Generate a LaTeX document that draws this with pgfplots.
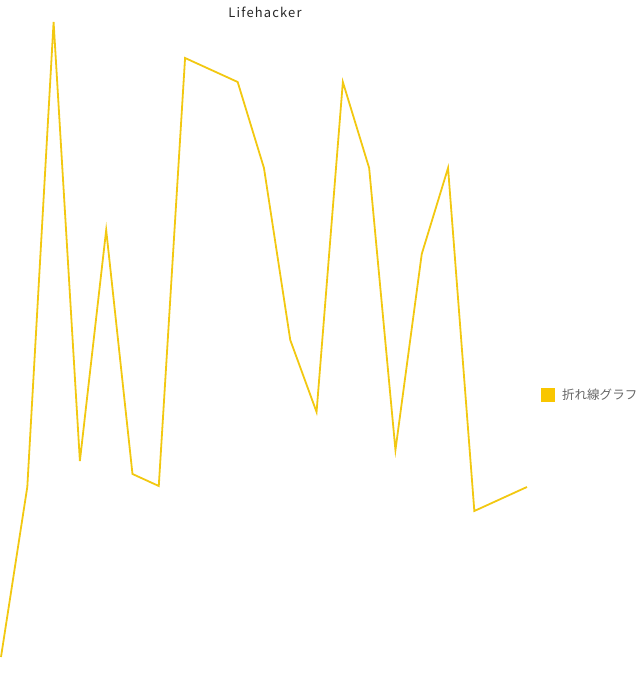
\documentclass[border=0pt]{standalone}
\usepackage{fontspec}
\setmainfont{Noto Sans CJK JP}
\usepackage{pgfplots}
\pgfplotsset{compat=1.18}
\definecolor{lineyellow}{HTML}{F2C811}
\definecolor{squareyellow}{HTML}{F9C600}
\definecolor{legendgray}{HTML}{666666}

\begin{document}
\begin{tikzpicture}[x=1bp,y=1bp]
\begin{axis}[
    at={(0,0)}, anchor=south west,
    scale only axis,
    width=640bp, height=689bp,
    xmin=-0.038, xmax=24.30,
    ymin=0, ymax=689,
    hide axis,
    clip=false,
    legend style={at={(axis cs:20.53,294)}, anchor=west, draw=none, fill=none,
        font=\fontsize{12.6}{14}\selectfont\color{legendgray},
        inner sep=0pt, column sep=0pt},
    legend image code/.code={
        \fill[squareyellow, draw=none] (0bp,-7bp) rectangle (14bp,7bp);
    },
    legend cell align=left,
]
\addplot[lineyellow, line width=1.8bp, mark=none, line join=miter] coordinates {
    (0,32) (1,202) (2,667) (3,228) (4,459) (5,215) (6,203) (7,631)
    (8,619) (9,607) (10,521) (11,349) (12,277) (13,607) (14,521)
    (15,239) (16,435) (17,521) (18,178) (19,190) (20,202)
};
\addlegendentry{\hspace{5bp}折れ線グラフ}
\end{axis}
\node[font=\fontsize{13}{15}\selectfont\addfontfeatures{LetterSpace=9}, text=black!85] at (265bp,677bp) {Lifehacker};
\pgfresetboundingbox
\path (0,0) rectangle (640bp,689bp);
\end{tikzpicture}
\end{document}
